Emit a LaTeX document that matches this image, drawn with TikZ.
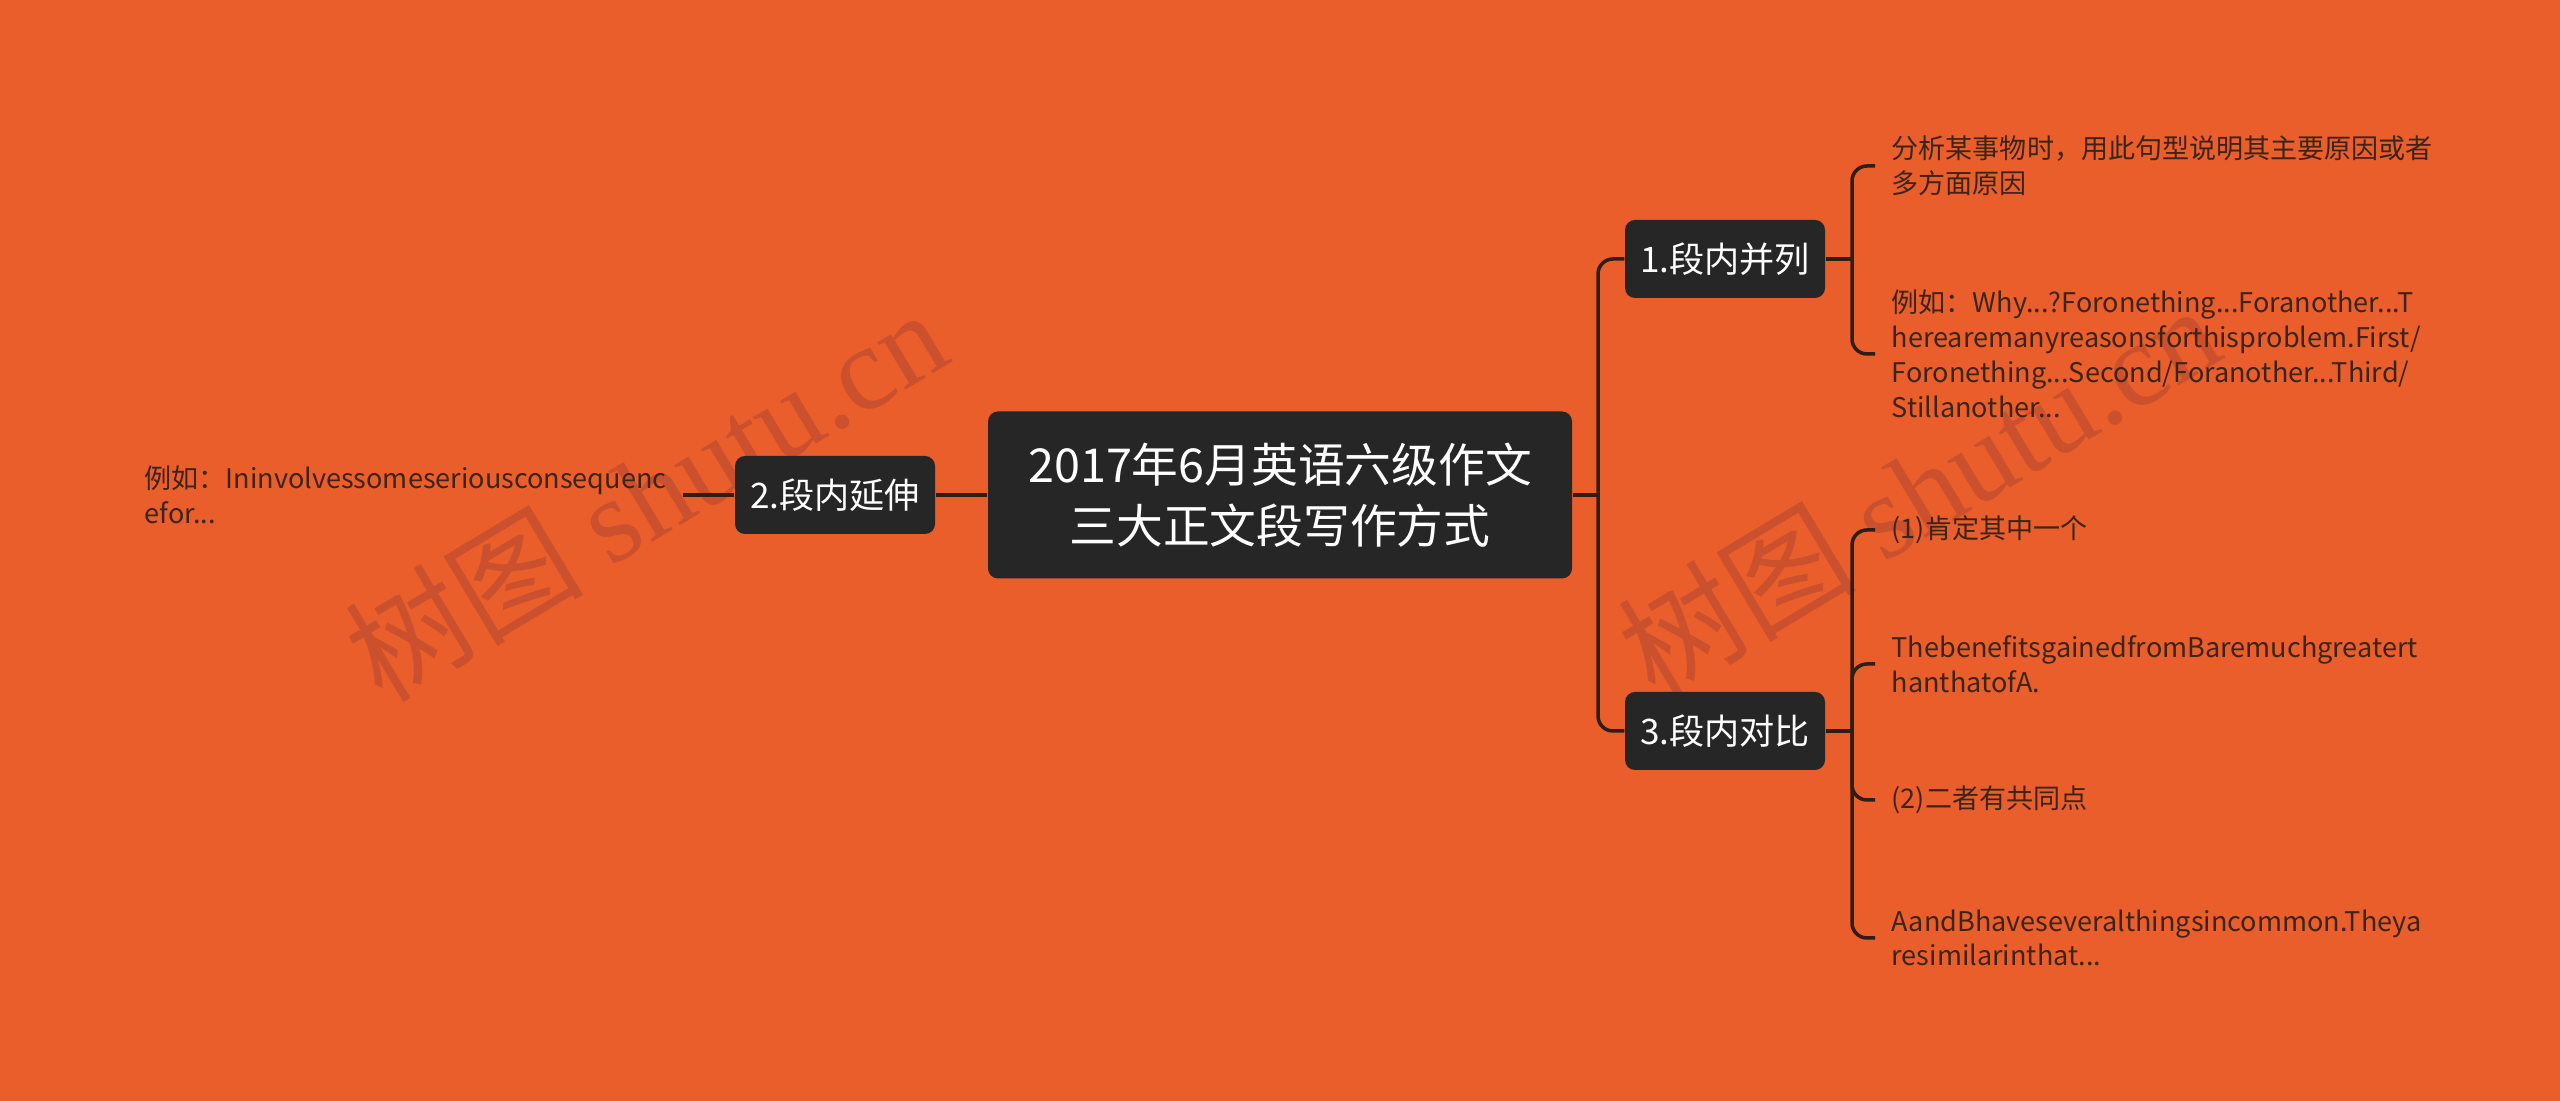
\documentclass[tikz,border=0pt]{standalone}
\usepackage{fontspec}
\setmainfont{Noto Sans CJK SC}
\newfontfamily\stampfont{Liberation Serif}
\usepackage{xcolor}
\usepackage{tikz}
\usetikzlibrary{positioning}

\definecolor{bgorange}{RGB}{233,94,42}
\definecolor{boxgray}{RGB}{38,38,38}
\definecolor{wire}{RGB}{46,30,22}
\definecolor{ink}{RGB}{60,36,24}
\definecolor{stampred}{RGB}{202,80,46}

\begin{document}
\begin{tikzpicture}[
  topic/.style={fill=boxgray, rounded corners=0.1cm, text=white, align=center,
    minimum width=5.84cm, minimum height=1.67cm, font=\fontsize{13.3}{17.5}\selectfont},
  branch/.style={fill=boxgray, rounded corners=0.1cm, text=white,
    minimum width=2cm, minimum height=0.78cm, font=\fontsize{10}{12}\selectfont},
  leaf/.style={text=ink, align=left, inner xsep=0.16cm, inner ysep=0pt,
    font=\fontsize{7.7}{9.9}\selectfont},
  stamp/.style={text=stampred, rotate=31, font=\fontsize{34}{34}\selectfont},
  conn/.style={draw=wire, line width=1pt},
  elbow/.style={conn, rounded corners=0.15cm}
]
\fill[bgorange] (0, 0) rectangle (25.6, 11.01);

\node[stamp] (wm1) at (6.45, 6.07) {树图 {\stampfont shutu.cn}};
\node[stamp] (wm2) at (19.18, 6.11) {树图 {\stampfont shutu.cn}};

\node[topic] (root) at (12.8, 6.06) {2017年6月英语六级作文\\三大正文段写作方式};
\node[branch] (b1) at (17.25, 8.42) {1.段内并列};
\node[branch] (b2) at (8.35, 6.06) {2.段内延伸};
\node[branch] (b3) at (17.25, 3.70) {3.段内对比};

\node[leaf, anchor=west] (l1a) at (18.75, 9.35) {分析某事物时，用此句型说明其主要原因或者\\多方面原因};
\node[leaf, anchor=west] (l1b) at (18.75, 7.47) {例如：Why...?Foronething...Foranother...T\\herearemanyreasonsforthisproblem.First/\\Foronething...Second/Foranother...Third/\\Stillanother...};
\node[leaf, anchor=east] (l2) at (6.83, 6.06) {例如：Ininvolvessomeseriousconsequenc\\efor...};
\node[leaf, anchor=west] (l3a) at (18.75, 5.71) {(1)肯定其中一个};
\node[leaf, anchor=west] (l3b) at (18.75, 4.37) {ThebenefitsgainedfromBaremuchgreatert\\hanthatofA.};
\node[leaf, anchor=west] (l3c) at (18.75, 3.01) {(2)二者有共同点};
\node[leaf, anchor=west] (l3d) at (18.75, 1.63) {AandBhaveseveralthingsincommon.Theya\\resimilarinthat...};

\coordinate (trunk) at (15.98, 6.06);
\draw[conn] (root.east) -- (trunk);
\draw[elbow] (trunk) |- (b1.west);
\draw[elbow] (trunk) |- (b3.west);
\draw[conn] (root.west) -- (b2.east);
\draw[conn] (b2.west) -- (l2.east);

\coordinate (fork1) at (18.52, 8.42);
\draw[conn] (b1.east) -- (fork1);
\draw[elbow] (fork1) |- (l1a.west);
\draw[elbow] (fork1) |- (l1b.west);

\coordinate (fork3) at (18.52, 3.70);
\draw[conn] (b3.east) -- (fork3);
\draw[elbow] (fork3) |- (l3a.west);
\draw[elbow] (fork3) |- (l3b.west);
\draw[elbow] (fork3) |- (l3c.west);
\draw[elbow] (fork3) |- (l3d.west);
\end{tikzpicture}
\end{document}
